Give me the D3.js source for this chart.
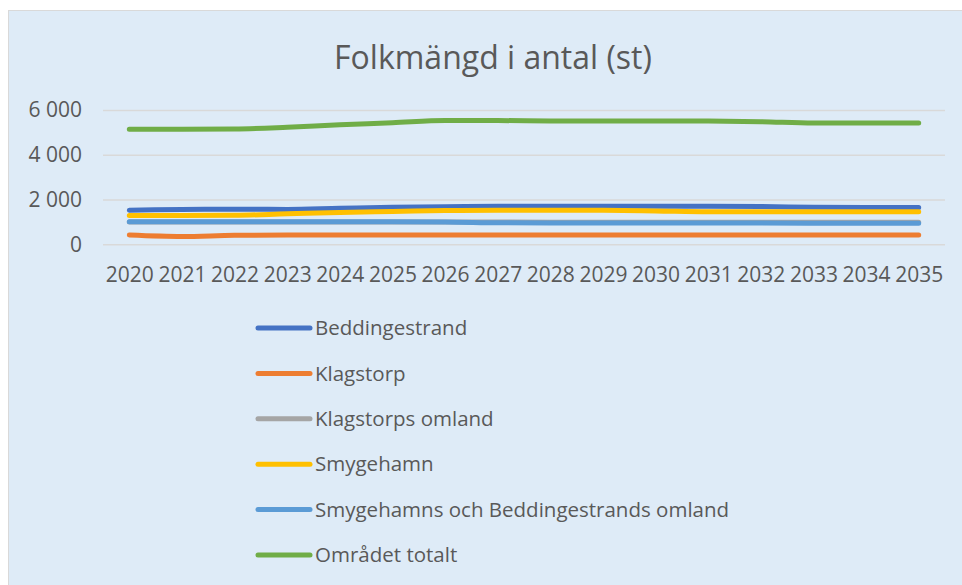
<!DOCTYPE html>
<html>
<head>
<meta charset="utf-8">
<script src="https://cdn.jsdelivr.net/npm/d3@7"></script>
<style>
  body { margin: 0; background: #fff; }
  text { font-family: "Open Sans", sans-serif; fill: #595959; }
</style>
</head>
<body>
<div id="chart"></div>
<script>

// Chart data
const years = ["2020","2021","2022","2023","2024","2025","2026","2027",
               "2028","2029","2030","2031","2032","2033","2034","2035"];
const seriesNames = ["Beddingestrand", "Klagstorp", "Klagstorps omland", "Smygehamn",
                     "Smygehamns och Beddingestrands omland", "Området totalt"];
const beddingestrand = [1525,1555,1570,1560,1610,1650,1680,1700,1700,1700,1700,1700,1690,1650,1640,1640];
const klagstorp      = [414,350,400,410,414,414,414,414,414,414,414,414,414,414,414,414];
const klagstorpsOml  = [1000,1000,1000,1000,1000,1000,1000,995,990,990,990,985,985,985,980,980];
const smygehamn      = [1285,1285,1295,1360,1420,1465,1505,1525,1525,1520,1490,1455,1450,1450,1450,1450];
const smygeBedOml    = [1005,1005,1005,1005,1005,1005,1000,960,950,950,950,950,950,945,945,945];
const totalt         = [5140,5140,5150,5230,5345,5430,5530,5530,5510,5510,5510,5505,5480,5420,5420,5420];
const yTicks = [0, 2000, 4000, 6000];

const colors = ["#4472c4", "#ed7d31", "#a5a5a5", "#ffc000", "#5b9bd5", "#70ad47"];
const allValues = [beddingestrand, klagstorp, klagstorpsOml, smygehamn, smygeBedOml, totalt];

const series = seriesNames.map((name, i) => ({name: name, color: colors[i], values: allValues[i]}));

// Dimensions
const width = 962;
const height = 585;
const plot = {left: 103, right: 945, top: 110, bottom: 244.3};

const svg = d3.select("#chart")
  .append("svg")
  .attr("width", width)
  .attr("height", height);

// chart area background
svg.append("rect")
  .attr("x", 8.5)
  .attr("y", 10.5)
  .attr("width", width)
  .attr("height", height)
  .attr("fill", "#deebf7")
  .attr("stroke", "#d9d9d9")
  .attr("stroke-width", 1);

// Title
svg.append("text")
  .attr("x", 493)
  .attr("y", 69)
  .attr("text-anchor", "middle")
  .style("font-size", "32px")
  .text("Folkmängd i antal (st)");

// Scales
const xScale = d3.scalePoint()
  .domain(years)
  .range([plot.left, plot.right])
  .padding(0.5);

const yScale = d3.scaleLinear()
  .domain([0, 6000])
  .range([plot.bottom, plot.top]);

const fmt = d3.formatLocale({decimal: ",", thousands: " ", grouping: [3], currency: ["", " kr"]}).format(",d");

// Y axis with gridlines
const yAxis = svg.append("g")
  .attr("transform", `translate(${plot.left}, 0)`)
  .call(d3.axisLeft(yScale)
          .tickValues(yTicks)
          .tickFormat(fmt)
          .tickSize(-(plot.right - plot.left))
          .tickPadding(21));
yAxis.select(".domain").remove();
yAxis.selectAll(".tick line").attr("stroke", "#d9d9d9").attr("stroke-width", 1.5);
yAxis.selectAll(".tick text")
  .attr("fill", "#595959")
  .style("font-size", "21px")
  .style("font-family", "'Open Sans', sans-serif");

// X axis (labels only)
const xAxis = svg.append("g")
  .attr("transform", `translate(0, ${plot.bottom})`)
  .call(d3.axisBottom(xScale).tickSize(0).tickPadding(23));
xAxis.select(".domain").remove();
xAxis.selectAll(".tick text")
  .attr("fill", "#595959")
  .style("font-size", "21px")
  .style("font-family", "'Open Sans', sans-serif");

// Lines
const line = d3.line()
  .x((d, i) => xScale(years[i]))
  .y(d => yScale(d))
  .curve(d3.curveMonotoneX);

svg.selectAll(".series")
  .data(series)
  .enter()
  .append("path")
    .attr("class", "series")
    .attr("d", d => line(d.values))
    .attr("fill", "none")
    .attr("stroke", d => d.color)
    .attr("stroke-width", 5)
    .attr("stroke-linecap", "round")
    .attr("stroke-linejoin", "round");

// Legend
const legend = svg.selectAll(".legend")
  .data(series)
  .enter()
  .append("g")
    .attr("class", "legend")
    .attr("transform", (d, i) => `translate(256, ${328 + i * 45.4})`);

legend.append("line")
  .attr("x1", 2)
  .attr("x2", 54)
  .attr("stroke", d => d.color)
  .attr("stroke-width", 5)
  .attr("stroke-linecap", "round");

legend.append("text")
  .attr("x", 59)
  .attr("dy", "0.35em")
  .style("font-size", "20.5px")
  .text(d => d.name);

</script>
</body>
</html>
